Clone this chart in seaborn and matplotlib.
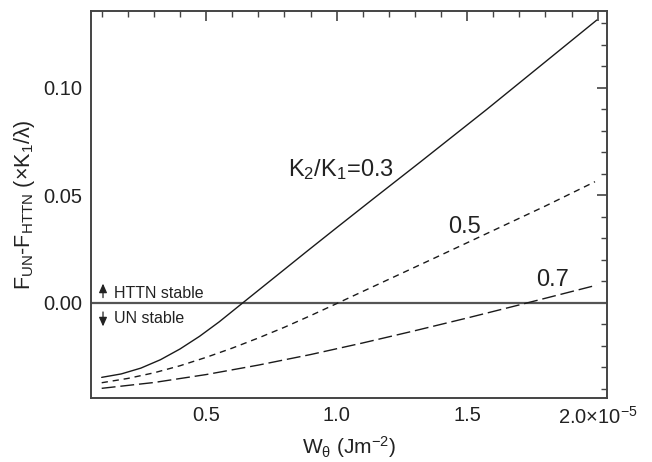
import numpy as np
import pandas as pd
import matplotlib
matplotlib.use("Agg")
import matplotlib.pyplot as plt
import seaborn as sns
from matplotlib.ticker import MultipleLocator, FixedLocator

# ---- data ----
x_03 = [0.10, 0.175, 0.25, 0.325, 0.40, 0.475, 0.55, 0.64, 0.72, 0.80, 0.886, 1.00, 1.141, 1.32, 1.575, 1.997]
y_03 = [-0.0346, -0.0330, -0.0303, -0.0264, -0.0214, -0.0155, -0.0088, 0.0000, 0.0078, 0.0156,
        0.0240, 0.0350, 0.0485, 0.0655, 0.0900, 0.1316]

x_05 = [0.10, 0.20, 0.30, 0.40, 0.50, 0.60, 0.70, 0.80, 0.90, 1.00, 1.20, 1.40, 1.60, 1.80, 1.99]
y_05 = [-0.0371, -0.0351, -0.0325, -0.0292, -0.0253, -0.0210, -0.0163, -0.0113, -0.0059, -0.0003,
        0.0110, 0.0223, 0.0337, 0.0451, 0.0564]

x_07 = [0.10, 0.30, 0.50, 0.70, 0.90, 1.10, 1.30, 1.50, 1.70, 1.997]
y_07 = [-0.0397, -0.0370, -0.0333, -0.0289, -0.0240, -0.0186, -0.0129, -0.0070, -0.0009, 0.0083]

series_names = ["0.3", "0.5", "0.7"]
xtick_vals = [0.5, 1.0, 1.5, 2.0]
xtick_labels = ["0.5", "1.0", "1.5", r"2.0×10$^{-5}$"]
ytick_vals = [0.00, 0.05, 0.10]
ytick_labels = ["0.00", "0.05", "0.10"]

df = pd.concat([
    pd.DataFrame({"x": x_03, "y": y_03, "k": series_names[0]}),
    pd.DataFrame({"x": x_05, "y": y_05, "k": series_names[1]}),
    pd.DataFrame({"x": x_07, "y": y_07, "k": series_names[2]}),
], ignore_index=True)

sns.set_theme(style="white")
plt.rcParams["font.family"] = ["Liberation Sans", "DejaVu Sans"]
plt.rcParams["mathtext.fontset"] = "custom"
plt.rcParams["mathtext.rm"] = "Liberation Sans"
plt.rcParams["mathtext.it"] = "Liberation Sans"
plt.rcParams["mathtext.default"] = "regular"

fig = plt.figure(figsize=(6.52, 4.62), dpi=100)
ax = fig.add_axes([91/652, 1-398/462, (607-91)/652, (398-11)/462])

ax.axhline(0, color="#555555", lw=1.6, zorder=1)

sns.lineplot(data=df, x="x", y="y", style="k", sort=False, estimator=None,
             color="#1a1a1a", linewidth=1.0, legend=False, ax=ax,
             dashes={"0.3": "", "0.5": (4.5, 3.5), "0.7": (10, 3.5)})

ax.set_xlim(0.059, 2.036)
ax.set_ylim(-0.0442, 0.1358)

ax.xaxis.set_major_locator(FixedLocator(xtick_vals))
ax.set_xticklabels(xtick_labels)
ax.xaxis.set_minor_locator(MultipleLocator(0.1))
ax.yaxis.set_major_locator(FixedLocator(ytick_vals))
ax.set_yticklabels(ytick_labels)
ax.yaxis.set_minor_locator(MultipleLocator(0.01))

ax.tick_params(which="both", direction="in", top=True, right=True,
               color="#444444", labelsize=14.5, labelcolor="#222222", pad=6)
ax.tick_params(which="major", length=7, width=1.2)
ax.tick_params(which="minor", length=4, width=1.0)
for s in ax.spines.values():
    s.set_color("#444444")
    s.set_linewidth(1.4)

ax.set_xlabel(r"W$_{\theta}$ (Jm$^{-2}$)", fontsize=15, color="#222222", labelpad=4)
ax.set_ylabel(r"F$_{UN}$-F$_{HTTN}$ (×K$_{1}$/λ)", fontsize=15.5, color="#222222", labelpad=5)

ax.text(1.017, 0.0619, r"K$_{2}$/K$_{1}$=0.3", fontsize=17, ha="center", va="center", color="#222222")
ax.text(1.489, 0.0353, "0.5", fontsize=17, ha="center", va="center", color="#222222")
ax.text(1.826, 0.0107, "0.7", fontsize=17, ha="center", va="center", color="#222222")

ax.annotate("", xy=(0.105, 0.0103), xytext=(0.105, 0.0012),
            arrowprops=dict(arrowstyle="-|>,head_length=0.45,head_width=0.2", color="#222222", lw=0.9))
ax.annotate("", xy=(0.105, -0.0122), xytext=(0.105, -0.0029),
            arrowprops=dict(arrowstyle="-|>,head_length=0.45,head_width=0.2", color="#222222", lw=0.9))
ax.text(0.1475, 0.0042, "HTTN stable", fontsize=11.5, ha="left", va="center", color="#222222")
ax.text(0.1475, -0.0074, "UN stable", fontsize=11.5, ha="left", va="center", color="#222222")

fig.savefig("out.png", dpi=100)
